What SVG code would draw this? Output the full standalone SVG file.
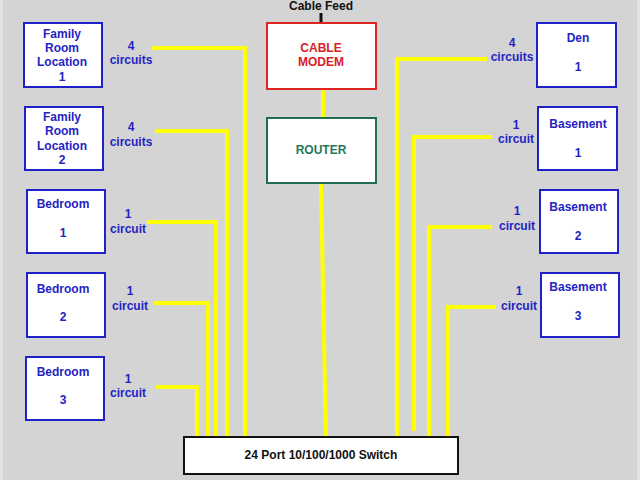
<svg xmlns="http://www.w3.org/2000/svg" width="640" height="480" viewBox="0 0 640 480">
<style>
.bg{fill:#d4d4d4}
.room{fill:#fff;stroke:#2020c8;stroke-width:2}
.t{font-family:"Liberation Sans",Arial,sans-serif;font-weight:bold;font-size:12px;text-anchor:middle}
.blue{fill:#2424c4}
.wire{fill:none;stroke:#ffff00;stroke-width:4}
</style>
<rect class="bg" x="0" y="0" width="640" height="480"/>
<rect x="0" y="0" width="3" height="480" fill="#e2e2e2"/>
<rect x="637" y="0" width="3" height="480" fill="#e2e2e2"/>

<g id="connectors">
  <polyline class="wire" points="152,48 245,48 245,437"/>
  <polyline class="wire" points="155,131 227,131 227,437"/>
  <polyline class="wire" points="147,222 216,222 216,437"/>
  <polyline class="wire" points="154,303 208,303 208,437"/>
  <polyline class="wire" points="156,387 197,387 197,437"/>
  <polyline class="wire" points="487,59 397,59 397,437"/>
  <polyline class="wire" points="492,137 414,137 414,431"/>
  <polyline class="wire" points="492,227 429,227 429,437"/>
  <polyline class="wire" points="496,307 448,307 448,437"/>
  <line class="wire" x1="323" y1="89" x2="323" y2="118"/>
  <line class="wire" x1="321" y1="183" x2="326" y2="437"/>
  <line x1="321" y1="13" x2="321" y2="23" stroke="#111" stroke-width="3"/>
</g>

<g id="cable-feed">
  <text class="t" x="321" y="10" fill="#111">Cable Feed</text>
</g>

<g id="cable-modem">
  <rect x="267" y="23" width="109" height="66" fill="#fff" stroke="#e02424" stroke-width="2"/>
  <text class="t" x="321" y="52" fill="#d8202a">CABLE</text>
  <text class="t" x="321" y="66" fill="#d8202a">MODEM</text>
</g>

<g id="router">
  <rect x="267" y="118" width="109" height="65" fill="#fff" stroke="#1f6e50" stroke-width="2"/>
  <text class="t" x="321" y="154" fill="#1f7a58">ROUTER</text>
</g>

<g id="switch">
  <rect x="184" y="437" width="274" height="37" fill="#fff" stroke="#111" stroke-width="2"/>
  <text class="t" x="321" y="459" fill="#111">24 Port 10/100/1000 Switch</text>
</g>

<g id="family-room-1">
  <rect class="room" x="24" y="23" width="78" height="64"/>
  <text class="t blue" x="62" y="38">Family</text>
  <text class="t blue" x="62" y="52">Room</text>
  <text class="t blue" x="62" y="66">Location</text>
  <text class="t blue" x="62" y="81">1</text>
  <text class="t blue" x="131" y="50">4</text>
  <text class="t blue" x="131" y="64">circuits</text>
</g>

<g id="family-room-2">
  <rect class="room" x="25" y="107" width="78" height="63"/>
  <text class="t blue" x="62" y="121">Family</text>
  <text class="t blue" x="62" y="135">Room</text>
  <text class="t blue" x="62" y="150">Location</text>
  <text class="t blue" x="62" y="164">2</text>
  <text class="t blue" x="131" y="131">4</text>
  <text class="t blue" x="131" y="146">circuits</text>
</g>

<g id="bedroom-1">
  <rect class="room" x="27" y="190" width="78" height="63"/>
  <text class="t blue" x="63" y="208">Bedroom</text>
  <text class="t blue" x="63" y="237">1</text>
  <text class="t blue" x="128" y="218">1</text>
  <text class="t blue" x="128" y="233">circuit</text>
</g>

<g id="bedroom-2">
  <rect class="room" x="27" y="273" width="78" height="64"/>
  <text class="t blue" x="63" y="293">Bedroom</text>
  <text class="t blue" x="63" y="321">2</text>
  <text class="t blue" x="130" y="295">1</text>
  <text class="t blue" x="130" y="310">circuit</text>
</g>

<g id="bedroom-3">
  <rect class="room" x="26" y="357" width="78" height="63"/>
  <text class="t blue" x="63" y="376">Bedroom</text>
  <text class="t blue" x="63" y="404">3</text>
  <text class="t blue" x="128" y="383">1</text>
  <text class="t blue" x="128" y="397">circuit</text>
</g>

<g id="den-1">
  <rect class="room" x="537" y="23" width="79" height="64"/>
  <text class="t blue" x="578" y="42">Den</text>
  <text class="t blue" x="578" y="71">1</text>
  <text class="t blue" x="512" y="47">4</text>
  <text class="t blue" x="512" y="61">circuits</text>
</g>

<g id="basement-1">
  <rect class="room" x="538" y="107" width="79" height="63"/>
  <text class="t blue" x="578" y="128">Basement</text>
  <text class="t blue" x="578" y="157">1</text>
  <text class="t blue" x="516" y="129">1</text>
  <text class="t blue" x="516" y="143">circuit</text>
</g>

<g id="basement-2">
  <rect class="room" x="540" y="190" width="78" height="63"/>
  <text class="t blue" x="578" y="211">Basement</text>
  <text class="t blue" x="578" y="240">2</text>
  <text class="t blue" x="517" y="215">1</text>
  <text class="t blue" x="517" y="230">circuit</text>
</g>

<g id="basement-3">
  <rect class="room" x="541" y="273" width="78" height="64"/>
  <text class="t blue" x="578" y="291">Basement</text>
  <text class="t blue" x="578" y="320">3</text>
  <text class="t blue" x="519" y="295">1</text>
  <text class="t blue" x="519" y="310">circuit</text>
</g>
</svg>
